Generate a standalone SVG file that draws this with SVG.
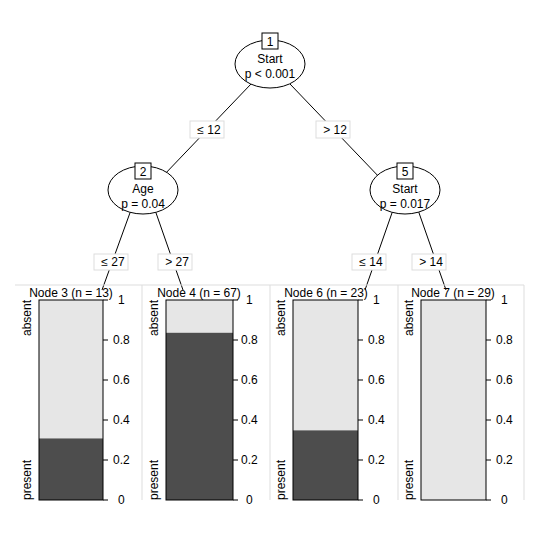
<svg xmlns="http://www.w3.org/2000/svg" width="540" height="540" viewBox="0 0 540 540">
<style>
text{font-family:"Liberation Sans",Arial,sans-serif;font-size:12px;fill:#000}
.m{text-anchor:middle}
.e{fill:#fff;stroke:#000;stroke-width:1}
.b{fill:#fff;stroke:#000;stroke-width:1}
.lb{fill:#fff;stroke:#ddd;stroke-width:1}
.c line{stroke:#000;stroke-width:1}
.fr{fill:none;stroke:#ddd;stroke-width:1}
.ab{fill:#e6e6e6;stroke:none}
.pr{fill:#4d4d4d;stroke:none}
.ax{stroke:#000;stroke-width:1;fill:none}
</style>
<g class="c" id="connectors">
<line x1="251" y1="84" x2="163" y2="176"/>
<line x1="290" y1="84" x2="382" y2="180"/>
<line x1="131" y1="210" x2="102" y2="290"/>
<line x1="155" y1="210" x2="183" y2="290"/>
<line x1="393" y1="210" x2="365" y2="290"/>
<line x1="418" y1="210" x2="446" y2="290"/>
</g>
<g id="edge-labels">
<rect class="lb" x="190" y="121" width="34" height="17"/><text class="m" x="209" y="134">≤ 12</text>
<rect class="lb" x="316" y="121" width="34" height="17"/><text class="m" x="335" y="134">&gt; 12</text>
<rect class="lb" x="94" y="254" width="34" height="16"/><text class="m" x="113" y="266">≤ 27</text>
<rect class="lb" x="158" y="254" width="34" height="16"/><text class="m" x="177" y="266">&gt; 27</text>
<rect class="lb" x="352" y="254" width="34" height="16"/><text class="m" x="371" y="266">≤ 14</text>
<rect class="lb" x="412" y="254" width="34" height="16"/><text class="m" x="431" y="266">&gt; 14</text>
</g>
<g id="node1">
<ellipse class="e" cx="270" cy="64" rx="35" ry="24"/>
<rect class="b" x="262" y="33" width="16" height="16"/><text class="m" x="270" y="46">1</text>
<text class="m" x="270" y="63">Start</text><text class="m" x="270" y="78">p &lt; 0.001</text>
</g>
<g id="node2">
<ellipse class="e" cx="143" cy="190" rx="35" ry="24"/>
<rect class="b" x="135" y="163" width="16" height="16"/><text class="m" x="143" y="176">2</text>
<text class="m" x="143" y="193">Age</text><text class="m" x="143" y="208">p = 0.04</text>
</g>
<g id="node5">
<ellipse class="e" cx="405" cy="190" rx="35" ry="24"/>
<rect class="b" x="397" y="163" width="16" height="16"/><text class="m" x="405" y="176">5</text>
<text class="m" x="405" y="193">Start</text><text class="m" x="405" y="208">p = 0.017</text>
</g>
<g id="frame">
<polyline class="fr" points="15,285 524,285 524,500"/>
<line class="fr" x1="142" y1="285" x2="142" y2="500"/>
<line class="fr" x1="270" y1="285" x2="270" y2="500"/>
<line class="fr" x1="398" y1="285" x2="398" y2="500"/>
</g>
<g id="node3">
<text class="m" x="71" y="297">Node 3 (n = 13)</text>
<rect class="ab" x="39" y="300" width="64" height="138"/>
<rect class="pr" x="39" y="438.4" width="64" height="61.6"/>
<rect class="ax" x="39" y="300" width="64" height="200" stroke="#000"/>
<text transform="translate(31,300) rotate(-90)" text-anchor="end">absent</text>
<text transform="translate(31,500) rotate(-90)">present</text>
<path class="ax" d="M103,300h5M103,340h5M103,380h5M103,420h5M103,460h5M103,500h5"/>
<text x="118" y="304">1</text><text x="113" y="344">0.8</text><text x="113" y="384">0.6</text><text x="113" y="424">0.4</text><text x="113" y="464">0.2</text><text x="118" y="504">0</text>
</g>
<g id="node4">
<text class="m" x="199" y="297">Node 4 (n = 67)</text>
<rect class="ab" x="166" y="300" width="67" height="33"/>
<rect class="pr" x="166" y="332.8" width="67" height="167.2"/>
<rect class="ax" x="166" y="300" width="67" height="200"/>
<text transform="translate(158,300) rotate(-90)" text-anchor="end">absent</text>
<text transform="translate(158,500) rotate(-90)">present</text>
<path class="ax" d="M233,300h5M233,340h5M233,380h5M233,420h5M233,460h5M233,500h5"/>
<text x="246" y="304">1</text><text x="241" y="344">0.8</text><text x="241" y="384">0.6</text><text x="241" y="424">0.4</text><text x="241" y="464">0.2</text><text x="246" y="504">0</text>
</g>
<g id="node6">
<text class="m" x="326" y="297">Node 6 (n = 23)</text>
<rect class="ab" x="293" y="300" width="65" height="131"/>
<rect class="pr" x="293" y="430.4" width="65" height="69.6"/>
<rect class="ax" x="293" y="300" width="65" height="200"/>
<text transform="translate(285,300) rotate(-90)" text-anchor="end">absent</text>
<text transform="translate(285,500) rotate(-90)">present</text>
<path class="ax" d="M358,300h5M358,340h5M358,380h5M358,420h5M358,460h5M358,500h5"/>
<text x="373" y="304">1</text><text x="368" y="344">0.8</text><text x="368" y="384">0.6</text><text x="368" y="424">0.4</text><text x="368" y="464">0.2</text><text x="373" y="504">0</text>
</g>
<g id="node7">
<text class="m" x="453" y="297">Node 7 (n = 29)</text>
<rect class="ab" x="421" y="300" width="65" height="200"/>
<rect class="ax" x="421" y="300" width="65" height="200"/>
<text transform="translate(413,300) rotate(-90)" text-anchor="end">absent</text>
<text transform="translate(413,500) rotate(-90)">present</text>
<path class="ax" d="M486,300h5M486,340h5M486,380h5M486,420h5M486,460h5M486,500h5"/>
<text x="501" y="304">1</text><text x="496" y="344">0.8</text><text x="496" y="384">0.6</text><text x="496" y="424">0.4</text><text x="496" y="464">0.2</text><text x="501" y="504">0</text>
</g>
</svg>
